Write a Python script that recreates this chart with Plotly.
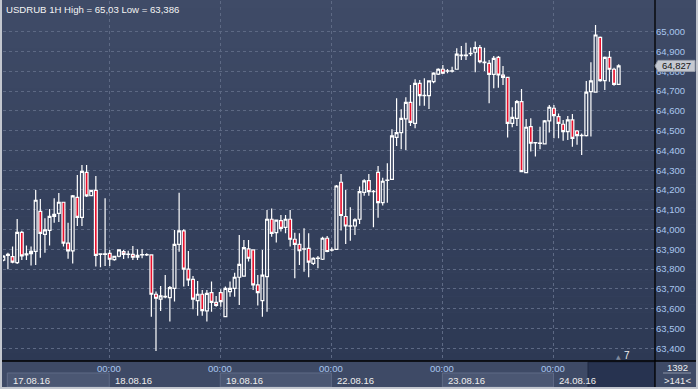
import plotly.graph_objects as go

# ---------------- data ----------------
open_ = [63.846, 63.870, 63.863, 63.833, 63.986, 63.872, 63.878, 63.890, 64.092, 63.976,
         63.996, 64.067, 64.082, 64.138, 63.931, 63.892, 64.163, 64.062, 64.289, 64.171,
         64.198, 63.874, 63.875, 63.880, 63.848, 63.865, 63.888, 63.874, 63.875, 63.860,
         63.872, 63.872, 63.872, 63.673, 63.648, 63.660, 63.656, 63.703, 63.925, 63.993,
         63.800, 63.748, 63.641, 63.673, 63.589, 63.681, 63.632, 63.681, 63.560, 63.686,
         63.703, 63.759, 63.765, 63.902, 63.897, 63.720, 63.641, 63.762, 64.052, 63.984,
         64.045, 64.011, 64.052, 63.951, 63.925, 63.901, 63.905, 63.829, 63.854, 63.850,
         63.956, 63.896, 63.900, 64.239, 64.066, 64.017, 64.018, 64.052, 64.188, 64.247,
         64.191, 64.289, 64.136, 64.248, 64.254, 64.466, 64.490, 64.559, 64.643, 64.537,
         64.739, 64.676, 64.677, 64.747, 64.785, 64.810, 64.800, 64.800, 64.810, 64.879,
         64.879, 64.889, 64.896, 64.919, 64.844, 64.840, 64.784, 64.870, 64.781, 64.769,
         64.537, 64.562, 64.646, 64.288, 64.520, 64.438, 64.435, 64.433, 64.549, 64.613,
         64.571, 64.532, 64.495, 64.554, 64.498, 64.474, 64.475, 64.697, 64.694, 64.971,
         64.753, 64.870, 64.810, 64.734]
high = [63.870, 63.883, 63.914, 64.053, 63.994, 63.919, 63.914, 64.200, 64.154, 64.057,
        64.104, 64.158, 64.185, 64.140, 64.035, 64.175, 64.276, 64.326, 64.326, 64.200,
        64.271, 63.880, 64.158, 63.897, 63.866, 63.900, 63.897, 63.893, 63.917, 63.900,
        63.900, 63.880, 63.875, 63.687, 63.715, 63.770, 63.715, 63.998, 64.186, 64.001,
        63.892, 63.765, 63.740, 63.695, 63.695, 63.737, 63.664, 63.698, 63.712, 63.737,
        63.782, 63.973, 63.947, 63.947, 63.900, 63.770, 63.897, 64.099, 64.107, 64.050,
        64.074, 64.074, 64.099, 63.984, 63.981, 64.006, 63.981, 63.860, 63.867, 63.964,
        63.968, 63.909, 64.225, 64.281, 64.200, 64.113, 64.057, 64.217, 64.254, 64.281,
        64.200, 64.321, 64.262, 64.335, 64.507, 64.663, 64.608, 64.668, 64.731, 64.759,
        64.756, 64.764, 64.753, 64.795, 64.815, 64.832, 64.811, 64.823, 64.916, 64.928,
        64.944, 64.920, 64.950, 64.933, 64.919, 64.857, 64.877, 64.877, 64.827, 64.770,
        64.618, 64.655, 64.710, 64.559, 64.562, 64.440, 64.520, 64.554, 64.630, 64.630,
        64.587, 64.554, 64.574, 64.584, 64.503, 64.486, 64.751, 64.845, 65.034, 64.975,
        64.874, 64.902, 64.818, 64.835]
low = [63.840, 63.800, 63.830, 63.826, 63.846, 63.846, 63.818, 63.821, 63.858, 63.883,
       63.919, 64.035, 64.038, 63.914, 63.853, 63.829, 64.018, 64.018, 64.165, 64.168,
       63.813, 63.810, 63.816, 63.816, 63.843, 63.860, 63.851, 63.855, 63.846, 63.846,
       63.855, 63.866, 63.560, 63.386, 63.589, 63.653, 63.535, 63.636, 63.888, 63.712,
       63.715, 63.597, 63.565, 63.565, 63.535, 63.585, 63.610, 63.610, 63.558, 63.661,
       63.661, 63.619, 63.765, 63.838, 63.695, 63.616, 63.560, 63.585, 63.964, 63.934,
       63.990, 63.981, 63.914, 63.754, 63.821, 63.787, 63.759, 63.821, 63.804, 63.846,
       63.885, 63.889, 63.897, 63.995, 63.927, 63.944, 63.973, 64.028, 64.171, 64.171,
       64.012, 64.060, 64.121, 64.136, 64.254, 64.422, 64.406, 64.402, 64.523, 64.512,
       64.626, 64.626, 64.609, 64.739, 64.781, 64.786, 64.790, 64.793, 64.808, 64.857,
       64.857, 64.877, 64.795, 64.840, 64.801, 64.638, 64.714, 64.717, 64.731, 64.465,
       64.517, 64.523, 64.290, 64.284, 64.394, 64.369, 64.406, 64.430, 64.490, 64.461,
       64.461, 64.449, 64.453, 64.419, 64.428, 64.377, 64.470, 64.470, 64.694, 64.747,
       64.705, 64.747, 64.727, 64.731]
close = [63.866, 63.875, 63.835, 63.986, 63.867, 63.877, 63.890, 64.148, 63.981, 63.998,
         64.067, 64.077, 64.138, 63.931, 63.892, 64.170, 64.062, 64.294, 64.170, 64.198,
         63.870, 63.877, 63.877, 63.850, 63.865, 63.897, 63.875, 63.876, 63.860, 63.870,
         63.874, 63.874, 63.673, 63.653, 63.665, 63.662, 63.707, 63.925, 63.993, 63.800,
         63.745, 63.648, 63.673, 63.590, 63.678, 63.632, 63.617, 63.636, 63.703, 63.703,
         63.759, 63.824, 63.909, 63.855, 63.720, 63.681, 63.770, 64.052, 63.981, 64.048,
         64.006, 64.052, 63.951, 63.925, 63.893, 63.903, 63.835, 63.855, 63.856, 63.956,
         63.889, 63.898, 64.220, 64.071, 64.018, 64.019, 64.049, 64.192, 64.246, 64.192,
         64.193, 64.136, 64.244, 64.250, 64.473, 64.490, 64.562, 64.643, 64.542, 64.739,
         64.677, 64.678, 64.751, 64.790, 64.810, 64.790, 64.802, 64.802, 64.886, 64.881,
         64.881, 64.891, 64.919, 64.848, 64.846, 64.784, 64.865, 64.781, 64.769, 64.537,
         64.567, 64.646, 64.293, 64.517, 64.436, 64.439, 64.437, 64.549, 64.618, 64.576,
         64.537, 64.495, 64.554, 64.461, 64.475, 64.476, 64.694, 64.751, 64.983, 64.753,
         64.870, 64.810, 64.734, 64.827]
bar_index = list(range(len(open_)))

day_labels = ["17.08.16", "18.08.16", "19.08.16", "22.08.16", "23.08.16", "24.08.16"]
midnight_label = "00:00"
price_ticks = [63.4, 63.5, 63.6, 63.7, 63.8, 63.9, 64.0, 64.1, 64.2, 64.3,
               64.4, 64.5, 64.6, 64.7, 64.8, 64.9, 65.0]
title_text = "USDRUB 1H High = 65,03 Low = 63,386"
total_bars = "1392"
shown_bars = ">141<"
marker_count = "7"

# ---------------- layout geometry ----------------
W, H = 698, 389
L, R, T, B = 3, 43, 1, 28
PW, PH = W - L - R, H - T - B
midnights = [22.9, 46.9, 70.9, 94.9, 118.9]   # bar positions of the day separators
xr = [-0.065, 140.85]
yr = [63.3358, 65.1549]


def pxx(x):  # pixel -> paper x
    return (x - L) / PW


def pxy(y):  # pixel -> paper y
    return (H - B - y) / PH


def pix2idx(x):
    return xr[0] + (x - L) / PW * (xr[1] - xr[0])


shapes = []
# gradient background (plot + right axis column)
top_c, bot_c = (63, 75, 103), (45, 57, 84)
n = 45
for k in range(n):
    y0 = k * (H - B) / n
    y1 = (k + 1) * (H - B) / n
    t = (k + 0.5) / n
    c = tuple(round(top_c[i] + (bot_c[i] - top_c[i]) * t) for i in range(3))
    shapes.append(dict(type="rect", xref="paper", yref="paper", layer="below",
                       x0=pxx(0), x1=pxx(W), y0=pxy(y1), y1=pxy(y0),
                       fillcolor="rgb(%d,%d,%d)" % c, line=dict(width=0)))

# date boxes in the bottom strip
box_starts = [pix2idx(7.3)] + midnights
box_ends = midnights + [pix2idx(588)]
for k, (a, b) in enumerate(zip(box_starts, box_ends)):
    if k % 2 == 0 and k < 5:
        shapes.append(dict(type="rect", xref="x", yref="paper", ysizemode="pixel", yanchor=0,
                           x0=a, x1=b, y0=-12, y1=-26, layer="above",
                           fillcolor="#4b5773", line=dict(color="#5f6b86", width=1)))
# dark scroll area at right of time strip
shapes.append(dict(type="rect", xref="x", yref="paper", ysizemode="pixel", yanchor=0,
                   x0=pix2idx(588), x1=xr[1], y0=-1, y1=-27, layer="above",
                   fillcolor="rgba(38,49,79,0.93)", line=dict(color="#1f2840", width=1)))
# black separators
shapes.append(dict(type="line", xref="paper", yref="paper", x0=1, x1=1, y0=pxy(389), y1=pxy(0),
                   line=dict(color="#000000", width=1.3), layer="above"))
shapes.append(dict(type="line", xref="paper", yref="paper", x0=pxx(0), x1=pxx(W), y0=0, y1=0,
                   line=dict(color="#000000", width=1.3), layer="above"))
# underline in the counter box
shapes.append(dict(type="line", xref="paper", yref="paper", x0=pxx(663), x1=pxx(691),
                   y0=pxy(373), y1=pxy(373), line=dict(color="#8a93a6", width=1), layer="above"))
# outer light border
for (x0, x1, y0, y1) in [(0, 2, 0, H), (0, W, H - 2, H), (W - 2, W, 0, H)]:
    shapes.append(dict(type="rect", xref="paper", yref="paper", x0=pxx(x0), x1=pxx(x1),
                       y0=pxy(y1), y1=pxy(y0), fillcolor="#c3c7cf", line=dict(width=0), layer="above"))
# current price tag
last = close[-1]
shapes.append(dict(type="path", xref="paper", yref="y", xsizemode="pixel", ysizemode="pixel",
                   xanchor=1, yanchor=last,
                   path="M 0,0 L 3,-5.5 L 40,-5.5 L 40,5.5 L 3,5.5 Z",
                   fillcolor="#c5c9d1", line=dict(color="#9aa0ac", width=1), layer="above"))

annotations = []
annotations.append(dict(text=title_text, xref="paper", yref="paper", x=pxx(4), y=pxy(2),
                        xanchor="left", yanchor="top", showarrow=False,
                        font=dict(family="Liberation Sans", size=9.6, color="#f4f4f4")))
for m in midnights:
    annotations.append(dict(text=midnight_label, xref="x", yref="paper", x=m, y=0, yshift=-7.5,
                            xanchor="center", yanchor="middle", showarrow=False,
                            font=dict(family="Liberation Sans", size=9.5, color="#a9c6ee")))
for k, lab in enumerate(day_labels):
    annotations.append(dict(text=lab, xref="x", yref="paper", x=box_starts[k], xshift=4, y=0,
                            yshift=-19.5, xanchor="left", yanchor="middle", showarrow=False,
                            font=dict(family="Liberation Sans", size=9.5, color="#eeeeee")))
annotations.append(dict(text=total_bars, xref="paper", yref="paper", x=pxx(677), y=pxy(367),
                        xanchor="center", yanchor="middle", showarrow=False,
                        font=dict(family="Liberation Sans", size=9.5, color="#eeeeee")))
annotations.append(dict(text=shown_bars, xref="paper", yref="paper", x=pxx(677), y=pxy(380),
                        xanchor="center", yanchor="middle", showarrow=False,
                        font=dict(family="Liberation Sans", size=9.5, color="#eeeeee")))
annotations.append(dict(text=f"{last:.3f}".replace(".", ","), xref="paper", yref="y",
                        x=pxx(676), y=last, xanchor="center", yanchor="middle", showarrow=False,
                        font=dict(family="Liberation Sans", size=9.5, color="#151515")))
annotations.append(dict(text="▲", xref="paper", yref="paper", x=pxx(618), y=pxy(356),
                        xanchor="center", yanchor="middle", showarrow=False,
                        font=dict(family="DejaVu Sans", size=6, color="#7f899d")))
annotations.append(dict(text=marker_count, xref="paper", yref="paper", x=pxx(627), y=pxy(355),
                        xanchor="center", yanchor="middle", showarrow=False,
                        font=dict(family="Liberation Sans", size=10, color="#eeeeee")))

fig = go.Figure()
fig.add_trace(go.Candlestick(
    x=bar_index, open=open_, high=high, low=low, close=close,
    increasing=dict(line=dict(color="#ffffff", width=1.2), fillcolor="rgba(0,0,0,0)"),
    decreasing=dict(line=dict(color="#ffffff", width=1.2), fillcolor="#e8102c"),
    whiskerwidth=0, hoverinfo="skip", showlegend=False))

grid = dict(showgrid=True, gridcolor="#5d6984", griddash="3px,3px", gridwidth=1, zeroline=False)
fig.update_layout(
    width=W, height=H, margin=dict(l=L, r=R, t=T, b=B),
    paper_bgcolor="#3e4a66", plot_bgcolor="rgba(0,0,0,0)",
    separators=", ", showlegend=False, boxgap=0.12,
    xaxis=dict(range=xr, rangeslider=dict(visible=False), tickvals=midnights,
               showticklabels=False, ticks="", showline=False, **grid),
    yaxis=dict(range=yr, side="right", tickvals=price_ticks, tickformat=".3f", ticks="",
               showline=False, tickfont=dict(family="Liberation Sans", size=9.5, color="#a9c6ee"),
               **grid),
    shapes=shapes, annotations=annotations,
)
fig.write_html("out.html", config={"displayModeBar": False},
               post_script="document.body.style.margin='0';document.body.style.overflow='hidden';")
